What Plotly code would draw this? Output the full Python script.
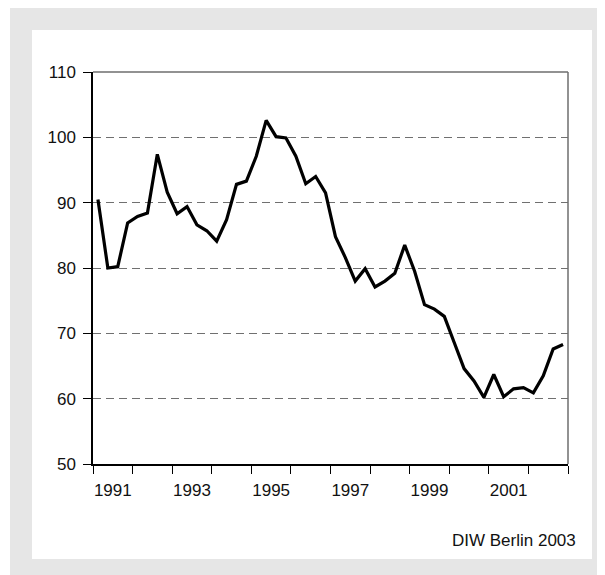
import plotly.graph_objects as go

years = list(range(1991, 2003))
quarters = [1, 2, 3, 4]
index_values = [
    90.5, 80.0, 80.2, 86.9,   # 1991
    87.9, 88.4, 97.4, 91.6,   # 1992
    88.3, 89.4, 86.6, 85.7,   # 1993
    84.1, 87.4, 92.8, 93.3,   # 1994
    97.1, 102.6, 100.1, 99.9, # 1995
    97.1, 92.9, 94.0, 91.5,   # 1996
    84.8, 81.6, 78.0, 79.9,   # 1997
    77.1, 78.0, 79.2, 83.5,   # 1998
    79.5, 74.4, 73.7, 72.6,   # 1999
    68.6, 64.6, 62.7, 60.2,   # 2000
    63.7, 60.3, 61.5, 61.7,   # 2001
    60.9, 63.5, 67.6, 68.3,   # 2002
]
label_years = [1991, 1993, 1995, 1997, 1999, 2001]
y_ticks = [50, 60, 70, 80, 90, 100, 110]
source_text = "DIW Berlin 2003"

x_pos = [y + (q - 0.5) / 4 for y in years for q in quarters]

OFF = 8  # page body margin
W, H = 605 - OFF, 575 - OFF
L, R, T, B = 93 - OFF, 568 - OFF, 72 - OFF, 464 - OFF
pw, ph = R - L, B - T


def px(xp):
    return (xp - OFF - L) / pw


def py(yp):
    return (B - (yp - OFF)) / ph


fig = go.Figure()
fig.add_trace(go.Scatter(
    x=x_pos, y=index_values, mode="lines",
    line=dict(color="black", width=3.2),
    hoverinfo="skip", showlegend=False,
))

font = dict(family="Liberation Sans, Arial, sans-serif", size=17, color="#111111")

fig.update_layout(
    width=W, height=H,
    margin=dict(l=L, r=W - R, t=T, b=H - B),
    paper_bgcolor="white",
    plot_bgcolor="rgba(0,0,0,0)",
    font=font,
    showlegend=False,
    xaxis=dict(
        range=[years[0], years[-1] + 1],
        tickvals=[y + 0.5 for y in label_years],
        ticktext=[str(y) for y in label_years],
        ticks="", showgrid=False, zeroline=False,
        showline=True, linecolor="black", linewidth=1.5,
        minor=dict(tick0=years[0], dtick=1, ticks="outside", ticklen=8,
                   tickcolor="black", tickwidth=1.2, showgrid=False),
        ticklabelstandoff=10,
        tickfont=font, fixedrange=True,
    ),
    yaxis=dict(
        range=[y_ticks[0], y_ticks[-1]],
        tickvals=y_ticks,
        ticks="outside", ticklen=8, tickcolor="black", tickwidth=1.2,
        showgrid=True, gridcolor="#707070", gridwidth=1.2, griddash="8px,5px",
        zeroline=False,
        showline=True, linecolor="black", linewidth=1.5,
        ticklabelstandoff=4,
        tickfont=font, fixedrange=True,
    ),
    shapes=[
        dict(type="rect", xref="paper", yref="paper",
             x0=px(10), x1=px(W + OFF + 5), y0=py(8), y1=py(H + OFF + 5),
             fillcolor="#e6e6e6", line=dict(width=0), layer="below"),
        dict(type="rect", xref="paper", yref="paper",
             x0=px(32), x1=px(592), y0=py(30), y1=py(559),
             fillcolor="white", line=dict(width=0), layer="below"),
        dict(type="line", xref="paper", yref="paper",
             x0=0, x1=1, y0=1, y1=1, line=dict(color="#6e6e6e", width=1.5)),
        dict(type="line", xref="paper", yref="paper",
             x0=1, x1=1, y0=0, y1=1, line=dict(color="#6e6e6e", width=1.5)),
    ],
    annotations=[
        dict(text=source_text, xref="paper", yref="paper",
             x=px(578), y=py(540), xanchor="right", yanchor="middle",
             showarrow=False, font=font),
    ],
)

fig.write_html("out.html")
